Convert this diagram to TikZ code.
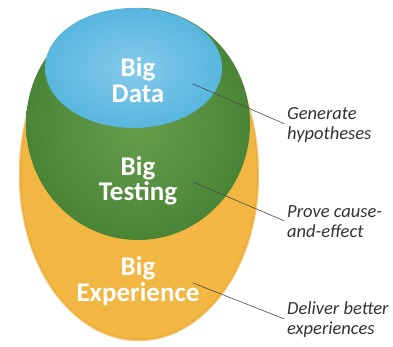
\documentclass[tikz,border=0pt]{standalone}
\usepackage{fontspec}
\setmainfont{Carlito}
\usepackage{tikz}
\usetikzlibrary{positioning}
\usetikzlibrary{calc}
\definecolor{expyellow}{HTML}{F2B642}
\definecolor{expedge}{HTML}{E8A52C}
\definecolor{testgreen}{HTML}{4A8537}
\definecolor{testlight}{HTML}{669E4B}
\definecolor{datablue}{HTML}{58B6DE}
\definecolor{datalight}{HTML}{84CAEA}
\definecolor{pingray}{HTML}{4A4A4A}
\tikzset{>=latex}
\tikzstyle{big} = [align=center, text=white, font=\bfseries\fontsize{27}{25.5}\selectfont, inner sep=0pt]
\tikzstyle{note} = [align=left, anchor=west, text=black!80, font=\itshape\fontsize{18.5}{20}\selectfont, inner sep=0pt]
\tikzstyle{pin} = [-, draw=pingray, line width=.6pt, shorten >=3pt]

\begin{document}
\begin{tikzpicture}[x=1pt, y=-1pt]
\useasboundingbox (0,0) rectangle (393,347);
% egg of experience
\path [fill=expyellow, draw=expedge, line width=2.5pt, draw opacity=.6]
  (139,9) .. controls (207,9) and (258,80) .. (258,175)
  .. controls (258,268) and (203,340) .. (139,340)
  .. controls (74,340) and (20,268) .. (20,175)
  .. controls (20,80) and (71,9) .. (139,9) -- cycle;
% testing circle
\shade [inner color=testlight, outer color=testgreen] (138,124) ellipse [x radius=112, y radius=116];
% data circle
\shade [inner color=datalight, outer color=datablue] (133.5,68) ellipse [x radius=88.5, y radius=60];

\node [big] (data) at (138,80) {Big\\Data};
\node [big] (testing) at (138,181) {Big\\Testing};
\node [big] (experience) at (138,281) {Big\\Experience};

\node [note] (hypo) at (287,125) {Generate\\hypotheses};
\node [note] (cause) at (287,222) {Prove cause-\\and-effect};
\node [note] (deliver) at (287,320) {Deliver better\\experiences};

\coordinate (dataPin) at (193,84);
\coordinate (testPin) at (193,182);
\coordinate (expPin) at (193,283);
\draw [pin] (dataPin) to (hypo.west);
\draw [pin] (testPin) to (cause.west);
\draw [pin] (expPin) to (deliver.west);
\end{tikzpicture}
\end{document}
